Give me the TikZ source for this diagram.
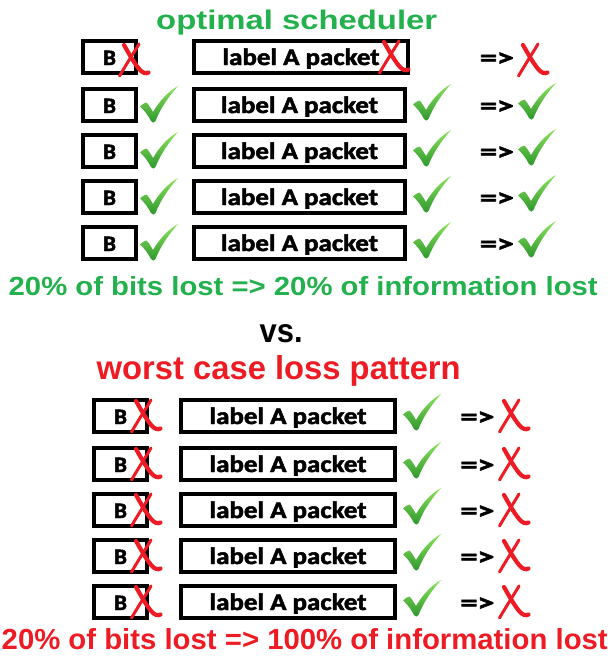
\documentclass[tikz,border=0pt]{standalone}
\usepackage{fontspec}
\usepackage{graphicx}
\setmainfont{Liberation Sans}
\newfontfamily\lblfont{Carlito}[BoldFeatures={FakeBold=2}]
\definecolor{pgreen}{HTML}{22B14C}
\definecolor{pred}{HTML}{ED1C24}
\definecolor{ckL}{HTML}{8EE35E}
\definecolor{ckD}{HTML}{2C962C}
\newcommand\Btxt{\resizebox{13pt}{14.3pt}{\lblfont\bfseries B}}
\newcommand\Ltxt{\resizebox{157pt}{16.7pt}{\lblfont\bfseries label A packet}}
\newcommand\Atxt{\resizebox{34pt}{13.5pt}{\lblfont\bfseries =>}}
\tikzset{
  pbox/.style={draw=black, line width=4pt, rectangle, inner sep=0pt, minimum height=32pt,
    text height=16pt, text depth=0pt, fill=white},
  bbox/.style={pbox, minimum width=53pt},
  lbox/.style={pbox, minimum width=211pt},
  txt/.style={inner sep=0pt, anchor=base west},
  redx/.pic={
    \draw[pred, line width=4.2pt, line cap=round]
      (6,2) .. controls (10,9) and (16,20) .. (21.5,26.5) .. controls (24.5,30) and (28,31) .. (30.5,29.5);
    \draw[pred, line width=3pt, line cap=round]
      (21,1) .. controls (17,8) and (9,20) .. (1.5,33);
  },
  chk/.pic={
    \shade[top color=ckL, bottom color=ckD]
      (0,20.5) .. controls (2,18.5) and (4,17) .. (6.5,16.5)
      .. controls (9,19) and (11,22.5) .. (13,26)
      .. controls (20,14) and (29,5) .. (38,0)
      .. controls (30,9) and (21,21) .. (15.5,35)
      .. controls (14.5,37) and (12,37) .. (11,35)
      .. controls (8,29) and (4,24) .. (0,20.5) -- cycle;
  }
}
\begin{document}
\begin{tikzpicture}[x=1pt,y=-1pt]
\useasboundingbox (0,0) rectangle (608,657);
\fill[white] (0,0) rectangle (608,657);

% ---- top section ----
\node[txt, text=pgreen] (t1) at (156,29.5) {\resizebox{281pt}{19.5pt}{\bfseries optimal scheduler}};

\node[bbox] (tb1) at (109.5,57) {\Btxt};
\node[lbox, minimum width=214pt] (tl1) at (301,57) {\Ltxt};
\node[txt, anchor=base] (ta1) at (497,66) {\Atxt};
\pic (tbx1) at (118,43) {redx};
\pic (tlx1) at (378,40) {redx};
\pic (trx1) at (517,43) {redx};

\foreach \i/\T in {2/87,3/133,4/179,5/225}{
  \node[bbox] (tb\i) at (109.5,\T+18) {\Btxt};
  \node[lbox] (tl\i) at (299.5,\T+18) {\Ltxt};
  \node[txt, anchor=base] (ta\i) at (497,\T+27) {\Atxt};
  \pic at (140,\T-1) {chk};
  \pic at (413,\T-3) {chk};
  \pic at (518,\T-4) {chk};
}

\node[txt, text=pgreen] (f1) at (8.5,295) {\resizebox{589pt}{19pt}{\bfseries 20\% of bits lost => 20\% of information lost}};

% ---- middle ----
\node[txt] (vs) at (259.5,342) {\resizebox{43pt}{18pt}{\bfseries vs.}};
\node[txt, text=pred] (t2) at (96.5,379) {\resizebox{364pt}{24pt}{\bfseries worst case loss pattern}};

% ---- bottom section ----
\foreach \i/\T in {1/398,2/446,3/492,4/538,5/584}{
  \node[bbox] (bb\i) at (120.5,\T+18) {\Btxt};
  \node[lbox, minimum width=214pt] (bl\i) at (288,\T+18) {\Ltxt};
  \node[txt, anchor=base] (ba\i) at (477.5,\T+27) {\Atxt};
  \pic at (130,\T+1) {redx};
  \pic at (403,\T-4) {chk};
  \pic at (498,\T+1) {redx};
}

\node[txt, text=pred] (f2) at (1.5,649) {\resizebox{606pt}{21pt}{\bfseries 20\% of bits lost => 100\% of information lost}};
\end{tikzpicture}
\end{document}
